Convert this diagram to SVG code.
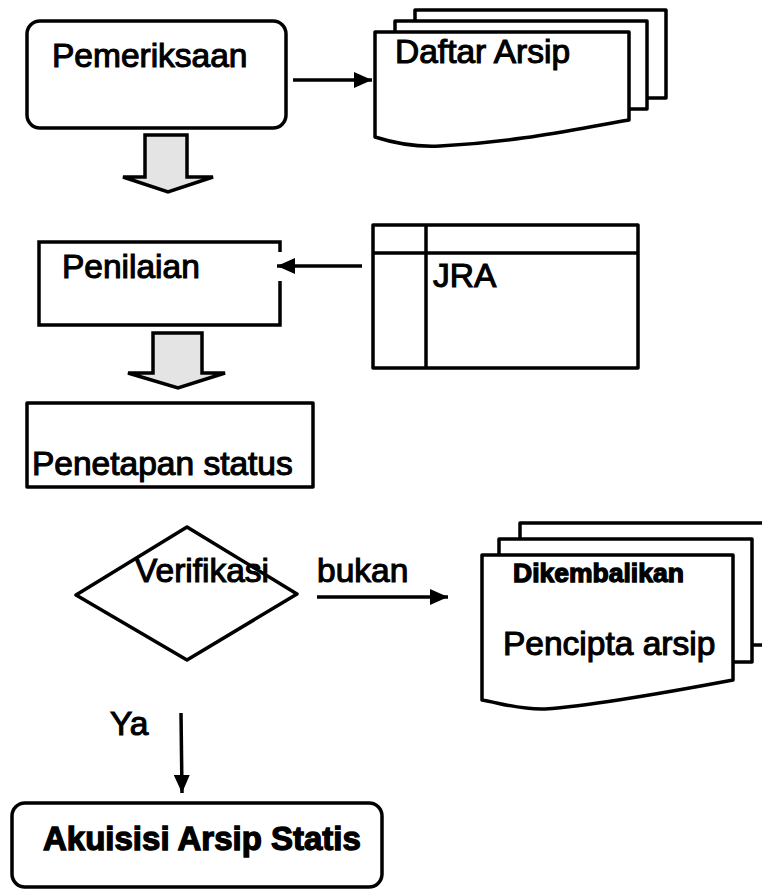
<svg xmlns="http://www.w3.org/2000/svg" width="762" height="890" viewBox="0 0 762 890">
<style>
.s{fill:#fff;stroke:#000;stroke-width:3.5;stroke-linejoin:round}
.t{font-family:"Liberation Sans",Arial,sans-serif;font-size:33.5px;fill:#000;stroke:#000;stroke-width:1.1}
.b{font-family:"Liberation Sans",Arial,sans-serif;font-weight:bold;fill:#000;stroke:#000;stroke-width:1.3}
.ln{fill:none;stroke:#000;stroke-width:3.5}
.blk{fill:#e4e4e4;stroke:#000;stroke-width:3.5;stroke-linejoin:miter}
</style>
<defs>
<marker id="ah" viewBox="0 0 18 16" markerWidth="18" markerHeight="16" refX="18" refY="8" orient="auto" markerUnits="userSpaceOnUse">
<path d="M0,0 L18,8 L0,16 Z" fill="#000"/>
</marker>
</defs>
<rect width="762" height="890" fill="#fff"/>

<g id="pemeriksaan">
<rect class="s" x="27" y="21" width="259" height="107" rx="13" fill="#fbfbfb"/>
<text class="t" x="52" y="67">Pemeriksaan</text>
</g>

<g id="daftar-arsip">
<rect class="s" x="415" y="10" width="251" height="88"/>
<rect class="s" x="395" y="21" width="252" height="88"/>
<path class="s" d="M375,32 H629 V120 C580,128 520,142 440,146 C420,147 400,145 375,137 Z"/>
<text class="t" x="395" y="63">Daftar Arsip</text>
</g>

<g id="penilaian">
<path class="ln" d="M280,252 V242 H39 V325 H280 V281"/>
<text class="t" x="62" y="278">Penilaian</text>
</g>

<g id="jra">
<rect class="s" x="373" y="225" width="265" height="143"/>
<line class="ln" x1="373" y1="253" x2="638" y2="253"/>
<line class="ln" x1="426" y1="225" x2="426" y2="368"/>
<text class="t" x="433" y="287">JRA</text>
</g>

<g id="penetapan-status">
<rect class="s" x="27" y="403" width="286" height="84"/>
<text class="t" x="32" y="475">Penetapan status</text>
</g>

<g id="verifikasi">
<path class="s" d="M187,527 L297,594 L187,660 L76,595 Z" fill="#fbfbfb"/>
<text class="t" x="135" y="582">Verifikasi</text>
</g>

<g id="dikembalikan">
<rect class="s" x="520" y="523" width="260" height="122"/>
<rect class="s" x="499" y="539" width="253" height="123"/>
<path class="s" d="M482,555 H733 V680 C680,690 600,705 545,709 C520,710 500,703 482,700 Z"/>
<text class="b" x="513" y="582" font-size="26.5">Dikembalikan</text>
<text class="t" x="503" y="655">Pencipta arsip</text>
</g>

<g id="akuisisi">
<rect class="s" x="12" y="803" width="370" height="84" rx="13"/>
<text class="b" x="43" y="850" font-size="33">Akuisisi Arsip Statis</text>
</g>

<g id="connectors">
<line class="ln" x1="293" y1="80" x2="372" y2="80" marker-end="url(#ah)"/>
<line class="ln" x1="362" y1="266" x2="277" y2="266" marker-end="url(#ah)"/>
<line class="ln" x1="317" y1="597" x2="448" y2="597" marker-end="url(#ah)"/>
<line class="ln" x1="181" y1="713" x2="182" y2="793" marker-end="url(#ah)"/>
<path class="blk" d="M145,135 H187 V177 H213 L168,192 L123,177 H145 Z"/>
<path class="blk" d="M153,333 H202 V373 H225 L178,388 L128,373 H153 Z"/>
<text class="t" x="317" y="582">bukan</text>
<text class="t" x="110" y="735">Ya</text>
</g>
</svg>
